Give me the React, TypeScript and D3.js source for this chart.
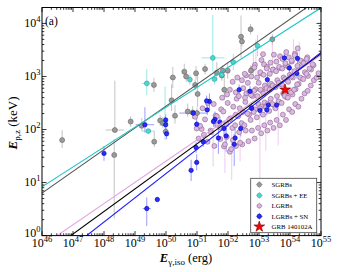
import React from 'react';
import * as d3 from 'd3';

// ---- axes ----
const xTickExps = [46, 47, 48, 49, 50, 51, 52, 53, 54, 55];
const yTickExps = [0, 1, 2, 3, 4];

// ---- fits: log10 Ep = a + b * (log10 Eiso - 46) ----
const fitNames = ['SGRBs', 'SGRBs + EE', 'LGRBs', 'All LGRBs', 'LGRBs + SN'];
const fitA = [0.8, 0.92, -0.196, -0.395, -0.658];
const fitB = [0.41, 0.375, 0.4, 0.425, 0.457];
const fitColors = ['#555555', '#22c4c4', '#e2a6e2', '#000000', '#1a1aff'];

// ---- data: [log10 Eiso (erg), log10 Ep,z (keV), dlogE, dlogEp low, dlogEp high] ----
const sgrb: number[][] = [
  [46.65, 1.8, 0, 0.15, 0.19], [48.35, 1.99, 0.3, 0.05, 0.93], [48.33, 1.52, 0, 1.2, 0.3],
  [48.86, 2.15, 0, 0.1, 0.1], [49.22, 2.07, 0, 0.1, 0.15], [49.61, 2.84, 0, 0.13, 0.13],
  [49.81, 2.17, 0, 0.1, 0.1], [49.9, 2.12, 0, 0.1, 0.12], [49.62, 1.77, 0, 0.1, 0.2],
  [49.99, 1.96, 0, 0.08, 0.1], [50.22, 2.98, 0.1, 0.2, 0.2], [50.59, 3.09, 0, 0.12, 0.15],
  [50.65, 3.0, 0, 0.1, 0.1], [50.97, 3.06, 0, 0.12, 0.14], [51.26, 3.14, 0, 0.1, 0.1],
  [51.99, 3.11, 0, 0.15, 0.15], [51.83, 3.11, 0, 0.1, 0.1], [52.42, 3.75, 0, 0.4, 0.4],
  [52.45, 3.66, 0, 0.1, 0.1], [52.73, 3.89, 0, 0.1, 0.1], [53.43, 3.7, 0, 0.1, 0.1],
  [50.18, 2.55, 0, 0.2, 0.3], [51.02, 2.67, 0, 0.25, 0.35], [50.7, 2.34, 0, 0.1, 0.15],
  [50.86, 2.32, 0, 0.12, 0.12], [50.29, 2.26, 0, 0.15, 0.2], [50.94, 2.84, 0, 0.1, 0.1],
  [51.64, 3.07, 0, 0.15, 0.2], [51.8, 3.02, 0, 0.1, 0.1], [51.88, 2.75, 0, 0.2, 0.25],
  [52.74, 3.11, 0, 0.1, 0.1], [51.0, 2.31, 0, 0.1, 0.1],
];

const sgrbEE: number[][] = [
  [49.38, 2.87, 0.16, 0.22, 0.27], [49.43, 1.97, 0.2, 0, 0], [49.97, 2.12, 0, 0.32, 0.69],
  [51.51, 3.35, 0.37, 0.26, 0.81], [50.77, 2.94, 0, 0.1, 0.1], [51.56, 2.95, 0, 0.1, 0.1],
  [51.8, 3.03, 0, 0.1, 0.1], [52.17, 3.27, 0.1, 0.15, 0.15], [52.95, 3.58, 0, 0.2, 0.2],
];

const lgrbSN: number[][] = [
  [48.0, 1.55, 0, 0.14, 0.14], [49.32, 2.09, 0.3, 0.15, 0.33], [49.38, 0.51, 0.13, 0.33, 0.21],
  [49.72, 0.68, 0, 0, 0], [49.99, 2.18, 0, 0.1, 0.1], [49.99, 2.09, 0, 0.1, 0.1],
  [50.02, 1.92, 0, 0.1, 0.1], [50.81, 1.23, 0, 0.2, 0.2], [50.99, 1.38, 0, 0.15, 0.15],
  [50.97, 1.66, 0, 0.1, 0.1], [51.2, 1.77, 0, 0.1, 0.1], [52.2, 1.72, 0, 0.41, 0.2],
  [52.36, 2.75, 0, 0.1, 0.1], [52.71, 2.72, 0, 0.1, 0.1], [51.4, 2.53, 0, 0.15, 0.15],
  [51.58, 2.19, 0, 0.15, 0.15], [50.88, 2.31, 0.45, 0, 0], [51.53, 2.15, 0, 0.1, 0.1],
  [51.87, 2.02, 0, 0.15, 0.15], [51.69, 1.84, 0, 0.3, 0.2], [51.94, 1.88, 0, 0.3, 0.2],
  [52.23, 1.84, 0, 0.2, 0.2], [52.41, 2.02, 0, 0.15, 0.15], [52.76, 2.4, 0, 0.1, 0.1],
  [53.03, 2.36, 0, 0.1, 0.1], [53.3, 2.46, 0, 0.1, 0.1], [53.57, 2.46, 0, 0.1, 0.1],
  [53.82, 3.35, 0, 0.1, 0.1], [53.98, 3.16, 0, 0.1, 0.1], [53.27, 2.94, 0, 0.1, 0.1],
  [54.22, 3.06, 0, 0.1, 0.1], [51.31, 2.54, 0, 0.1, 0.1], [51.33, 2.37, 0, 0.1, 0.1],
  [50.99, 2.1, 0, 0.1, 0.1], [51.74, 2.14, 0, 0.1, 0.1], [53.25, 2.37, 0, 0.1, 0.1],
  [54.24, 3.34, 0, 0.1, 0.1],
];

const lgrb: number[][] = [
  [51.05, 1.83], [50.94, 2.24], [51.15, 2.01], [51.22, 1.9], [51.18, 2.4], [51.34, 1.77], [51.26, 2.19],
  [51.44, 1.98], [51.35, 2.5], [51.56, 1.69], [51.45, 1.95], [51.6, 2.26], [51.66, 2.09], [51.54, 2.48],
  [51.75, 1.82], [51.64, 2.25], [51.78, 2.38], [51.87, 1.68], [51.76, 2.04], [51.81, 2.6], [51.96, 1.86],
  [51.85, 2.34], [51.99, 2.5], [52.06, 1.58], [51.95, 2.1], [52.08, 2.21], [51.97, 2.66], [52.16, 1.8],
  [52.04, 2.19], [52.17, 2.43], [52.06, 2.75], [52.26, 1.69], [52.14, 2.03], [52.25, 2.28], [52.28, 2.58],
  [52.15, 2.9], [52.36, 1.95], [52.23, 2.08], [52.38, 2.4], [52.25, 2.7], [52.3, 2.98], [52.46, 1.72],
  [52.33, 2.25], [52.48, 2.33], [52.35, 2.63], [52.49, 2.78], [52.57, 1.98], [52.44, 2.12], [52.56, 2.52],
  [52.59, 2.68], [52.45, 2.93], [52.58, 3.02], [52.66, 1.78], [52.53, 2.08], [52.68, 2.28], [52.55, 2.6],
  [52.69, 2.71], [52.54, 3.05], [52.77, 1.98], [52.63, 2.3], [52.76, 2.41], [52.79, 2.63], [52.64, 2.88],
  [52.78, 3.14], [52.86, 1.83], [52.73, 2.18], [52.88, 2.38], [52.74, 2.65], [52.89, 2.76], [52.75, 3.0],
  [52.87, 3.22], [52.97, 2.03], [52.83, 2.33], [52.98, 2.48], [52.84, 2.73], [52.99, 2.88], [52.85, 3.17],
  [53.07, 1.93], [52.93, 2.23], [53.08, 2.43], [52.95, 2.63], [53.09, 2.73], [52.94, 2.98], [53.06, 3.06],
  [53.08, 3.31], [53.17, 2.08], [53.03, 2.4], [53.18, 2.51], [53.05, 2.75], [53.19, 2.83], [53.04, 3.08],
  [53.16, 3.23], [53.27, 1.98], [53.13, 2.28], [53.28, 2.48], [53.14, 2.68], [53.29, 2.78], [53.15, 3.03],
  [53.26, 3.18], [53.13, 3.42], [53.36, 2.13], [53.23, 2.43], [53.38, 2.58], [53.24, 2.78], [53.39, 2.86],
  [53.25, 3.15], [53.37, 3.26], [53.47, 2.03], [53.33, 2.35], [53.48, 2.46], [53.34, 2.75], [53.49, 2.81],
  [53.35, 3.05], [53.46, 3.13], [53.48, 3.41], [53.57, 2.18], [53.43, 2.48], [53.58, 2.63], [53.44, 2.83],
  [53.59, 2.93], [53.45, 3.13], [53.56, 3.28], [53.67, 2.08], [53.53, 2.4], [53.68, 2.51], [53.54, 2.8],
  [53.69, 2.86], [53.55, 3.1], [53.66, 3.16], [53.68, 3.38], [53.77, 2.28], [53.63, 2.53], [53.78, 2.68],
  [53.64, 2.88], [53.79, 2.98], [53.65, 3.18], [53.76, 3.33], [53.87, 2.18], [53.73, 2.5], [53.88, 2.61],
  [53.74, 2.85], [53.91, 2.93], [53.75, 3.15], [53.86, 3.21], [53.88, 3.46], [53.97, 2.38], [53.83, 2.63],
  [53.98, 2.73], [53.84, 2.95], [53.99, 3.03], [53.85, 3.25], [53.96, 3.36], [54.07, 2.33], [53.93, 2.6],
  [54.08, 2.66], [53.94, 2.9], [54.09, 2.98], [53.95, 3.18], [54.06, 3.28], [54.17, 2.48], [54.03, 2.7],
  [54.18, 2.76], [54.04, 3.0], [54.19, 3.06], [54.05, 3.3], [54.16, 3.43], [54.27, 2.43], [54.13, 2.75],
  [54.28, 2.86], [54.14, 3.1], [54.29, 3.18], [54.15, 3.4], [54.37, 2.58], [54.23, 2.85], [54.38, 2.96],
  [54.24, 3.2], [54.39, 3.28], [54.25, 3.53], [54.47, 2.68], [54.33, 2.98], [54.48, 3.08], [54.34, 3.3],
  [54.57, 2.73], [54.43, 2.95], [54.58, 3.01], [54.44, 3.25], [54.56, 3.36], [54.67, 2.83], [54.53, 3.05],
  [54.68, 3.13], [54.54, 3.33], [54.77, 2.93], [54.63, 3.15], [54.76, 3.21], [54.86, 2.98], [54.73, 3.23],
  [54.92, 3.06], [51.9, 1.72], [52.1, 1.63], [52.39, 1.75], [50.99, 2.02], [51.1, 2.07],
];

// LGRB error bars: [log10 Eiso, log10 Ep, low, high] (in log10 Ep)
const lgrbErr: number[][] = [
  [53.03, 1.96, 1.07, 2.3], [52.12, 1.84, 1.05, 2.0], [51.9, 1.72, 1.18, 2.05], [53.43, 3.44, 3.2, 3.75],
  [52.9, 3.14, 2.95, 3.7], [52.39, 1.75, 1.4, 2.1], [53.62, 2.11, 1.7, 2.4], [54.11, 3.46, 3.25, 3.7],
  [52.82, 3.19, 3.0, 3.55], [51.52, 1.66, 1.3, 1.95], [53.22, 2.01, 1.6, 2.3], [54.3, 3.49, 3.3, 3.65],
];

const grb140102A = [53.84, 2.75];

const legendLabels = ['SGRBs', 'SGRBs + EE', 'LGRBs', 'LGRBs + SN', 'GRB 140102A'];

// ---- layout ----
const W = 340, H = 272;
const L = 42, R = 321, T = 7.5, B = 235.6;
const FONT = '"Liberation Serif", "DejaVu Serif", serif';

const x = d3.scaleLog().domain([1e46, 1e55]).range([L, R]);
const y = d3.scaleLog().domain([1, Math.pow(10, 4.3)]).range([B, T]);
const X = (lg: number) => x(Math.pow(10, lg));
const Y = (lg: number) => y(Math.pow(10, lg));

const styles = {
  sgrb: { fill: '#9a9a9a', stroke: '#666666', err: '#bdbdbd' },
  ee: { fill: '#4fd6d2', stroke: '#2a9d9a', err: '#8fe4e4' },
  lgrb: { fill: '#d9b9de', stroke: '#8b5e93', err: '#ecc4ec' },
  sn: { fill: '#2b2bff', stroke: '#0000a8', err: '#8f8fff' },
};

function ErrBars({ data, color }: { data: number[][]; color: string }) {
  return (
    <g stroke={color} strokeWidth={0.9} fill="none">
      {data.map((d, i) => {
        const cx = X(d[0]), cy = Y(d[1]);
        return (
          <g key={i}>
            {(d[3] > 0 || d[4] > 0) && (
              <line x1={cx} x2={cx} y1={Y(d[1] - (d[3] || 0))} y2={Y(d[1] + (d[4] || 0))} />
            )}
            {d[2] > 0 && <line x1={X(d[0] - d[2])} x2={X(d[0] + d[2])} y1={cy} y2={cy} />}
          </g>
        );
      })}
    </g>
  );
}

function Dots({ data, st, r }: { data: number[][]; st: any; r: number }) {
  return (
    <g fill={st.fill} stroke={st.stroke} strokeWidth={0.6}>
      {data.map((d, i) => (
        <circle key={i} cx={X(d[0])} cy={Y(d[1])} r={r} />
      ))}
    </g>
  );
}

export default function App() {
  const minorX: number[] = [];
  for (let e = 46; e < 55; e++) for (let k = 2; k <= 9; k++) minorX.push(k * Math.pow(10, e));
  const minorY: number[] = [];
  for (let e = 0; e <= 4; e++)
    for (let k = 2; k <= 9; k++) {
      const v = k * Math.pow(10, e);
      if (v <= Math.pow(10, 4.3)) minorY.push(v);
    }
  const starPath = d3.symbol().type(d3.symbolStar).size(36)();
  const starPathLg = d3.symbol().type(d3.symbolStar).size(36)();

  const legX = 250.7, legY = 178.3, legW = 66, legH = 54.4;
  const legRows = [184.6, 195.4, 205.9, 216.3, 226.7];
  const legStyles = [styles.sgrb, styles.ee, styles.lgrb, styles.sn];

  return (
    <svg width={W} height={H} style={{ position: 'absolute', left: 0, top: 0 }} fontFamily={FONT}>
      <rect x={0} y={0} width={W} height={H} fill="#ffffff" />
      <defs>
        <clipPath id="plotclip">
          <rect x={L} y={T} width={R - L} height={B - T} />
        </clipPath>
      </defs>
      <g clipPath="url(#plotclip)">
        <g>
          {lgrbErr.map((d, i) => (
            <line key={i} x1={X(d[0])} x2={X(d[0])} y1={Y(d[2])} y2={Y(d[3])} stroke={styles.lgrb.err} strokeWidth={0.9} />
          ))}
        </g>
        <ErrBars data={sgrb} color={styles.sgrb.err} />
        <ErrBars data={sgrbEE} color={styles.ee.err} />
        <ErrBars data={lgrbSN} color={styles.sn.err} />
        <Dots data={lgrb} st={styles.lgrb} r={2.5} />
        <Dots data={sgrb} st={styles.sgrb} r={2.5} />
        <Dots data={sgrbEE} st={styles.ee} r={2.4} />
        <Dots data={lgrbSN} st={styles.sn} r={2.2} />
        {fitNames.map((n, i) => {
          const x0 = 46, x1 = 55;
          return (
            <line
              key={n}
              x1={X(x0)}
              y1={Y(fitA[i] + fitB[i] * (x0 - 46))}
              x2={X(x1)}
              y2={Y(fitA[i] + fitB[i] * (x1 - 46))}
              stroke={fitColors[i]}
              strokeWidth={1.1}
            />
          );
        })}
        <path
          d={starPath || ''}
          transform={`translate(${X(grb140102A[0])},${Y(grb140102A[1])})`}
          fill="#ff0000"
          stroke="#7a0000"
          strokeWidth={0.6}
        />
      </g>

      <rect x={L} y={T} width={R - L} height={B - T} fill="none" stroke="#000" strokeWidth={1} />

      <g stroke="#000" strokeWidth={0.8}>
        {xTickExps.map((e) => {
          const px = X(e);
          return (
            <g key={'xt' + e}>
              <line x1={px} x2={px} y1={B} y2={B - 4.5} />
              <line x1={px} x2={px} y1={T} y2={T + 4.5} />
            </g>
          );
        })}
        {minorX.map((v, i) => (
          <g key={'xm' + i}>
            <line x1={x(v)} x2={x(v)} y1={B} y2={B - 2.3} />
            <line x1={x(v)} x2={x(v)} y1={T} y2={T + 2.3} />
          </g>
        ))}
        {yTickExps.map((e) => {
          const py = Y(e);
          return (
            <g key={'yt' + e}>
              <line x1={L} x2={L + 4.5} y1={py} y2={py} />
              <line x1={R} x2={R - 4.5} y1={py} y2={py} />
            </g>
          );
        })}
        {minorY.map((v, i) => (
          <g key={'ym' + i}>
            <line x1={L} x2={L + 2.3} y1={y(v)} y2={y(v)} />
            <line x1={R} x2={R - 2.3} y1={y(v)} y2={y(v)} />
          </g>
        ))}
      </g>

      <g fill="#000" fontSize={12}>
        {xTickExps.map((e) => (
          <text key={'xl' + e} x={X(e)} y={B + 11} textAnchor="middle">
            <tspan>10</tspan>
            <tspan dy={-5} fontSize={8.5}>{e}</tspan>
          </text>
        ))}
        {yTickExps.map((e) => (
          <text key={'yl' + e} x={L - 1.5} y={Y(e) + (e === 0 ? 1.2 : 3.6)} textAnchor="end">
            <tspan>10</tspan>
            <tspan dy={-5} fontSize={8.5}>{e}</tspan>
          </text>
        ))}
      </g>

      <text x={186} y={262} textAnchor="middle" fontSize={12.5} fill="#000">
        <tspan fontWeight="bold" fontStyle="italic">E</tspan>
        <tspan dy={2.8} fontSize={9}>γ,iso</tspan>
        <tspan dy={-2.8}> (erg)</tspan>
      </text>
      <text transform="translate(17,123) rotate(-90)" textAnchor="middle" fontSize={13} fill="#000">
        <tspan fontWeight="bold" fontStyle="italic">E</tspan>
        <tspan dy={2.8} fontSize={9}>p,z</tspan>
        <tspan dy={-2.8}> (keV)</tspan>
      </text>

      <text x={45} y={25} fontSize={11.5} fill="#000">(a)</text>

      <g>
        <rect x={legX} y={legY} width={legW} height={legH} fill="#ffffff" fillOpacity={0.9} stroke="#444" strokeWidth={0.8} />
        {legStyles.map((st, i) => {
          const cy = legRows[i];
          const cx = 259.3;
          return (
            <g key={'lg' + i}>
              <line x1={cx - 3.5} x2={cx + 3.5} y1={cy} y2={cy} stroke={st.err} strokeWidth={0.9} />
              <line x1={cx} x2={cx} y1={cy - 3.5} y2={cy + 3.5} stroke={st.err} strokeWidth={0.9} />
              <circle cx={cx} cy={cy} r={2.2} fill={st.fill} stroke={st.stroke} strokeWidth={0.6} />
            </g>
          );
        })}
        <path d={starPathLg || ''} transform={`translate(259.3,${legRows[4]})`} fill="#ff0000" stroke="#7a0000" strokeWidth={0.6} />
        {legendLabels.map((t, i) => (
          <text key={'lt' + i} x={271.5} y={legRows[i] + 2.4} fontSize={6.8} fill="#000">{t}</text>
        ))}
      </g>
    </svg>
  );
}
